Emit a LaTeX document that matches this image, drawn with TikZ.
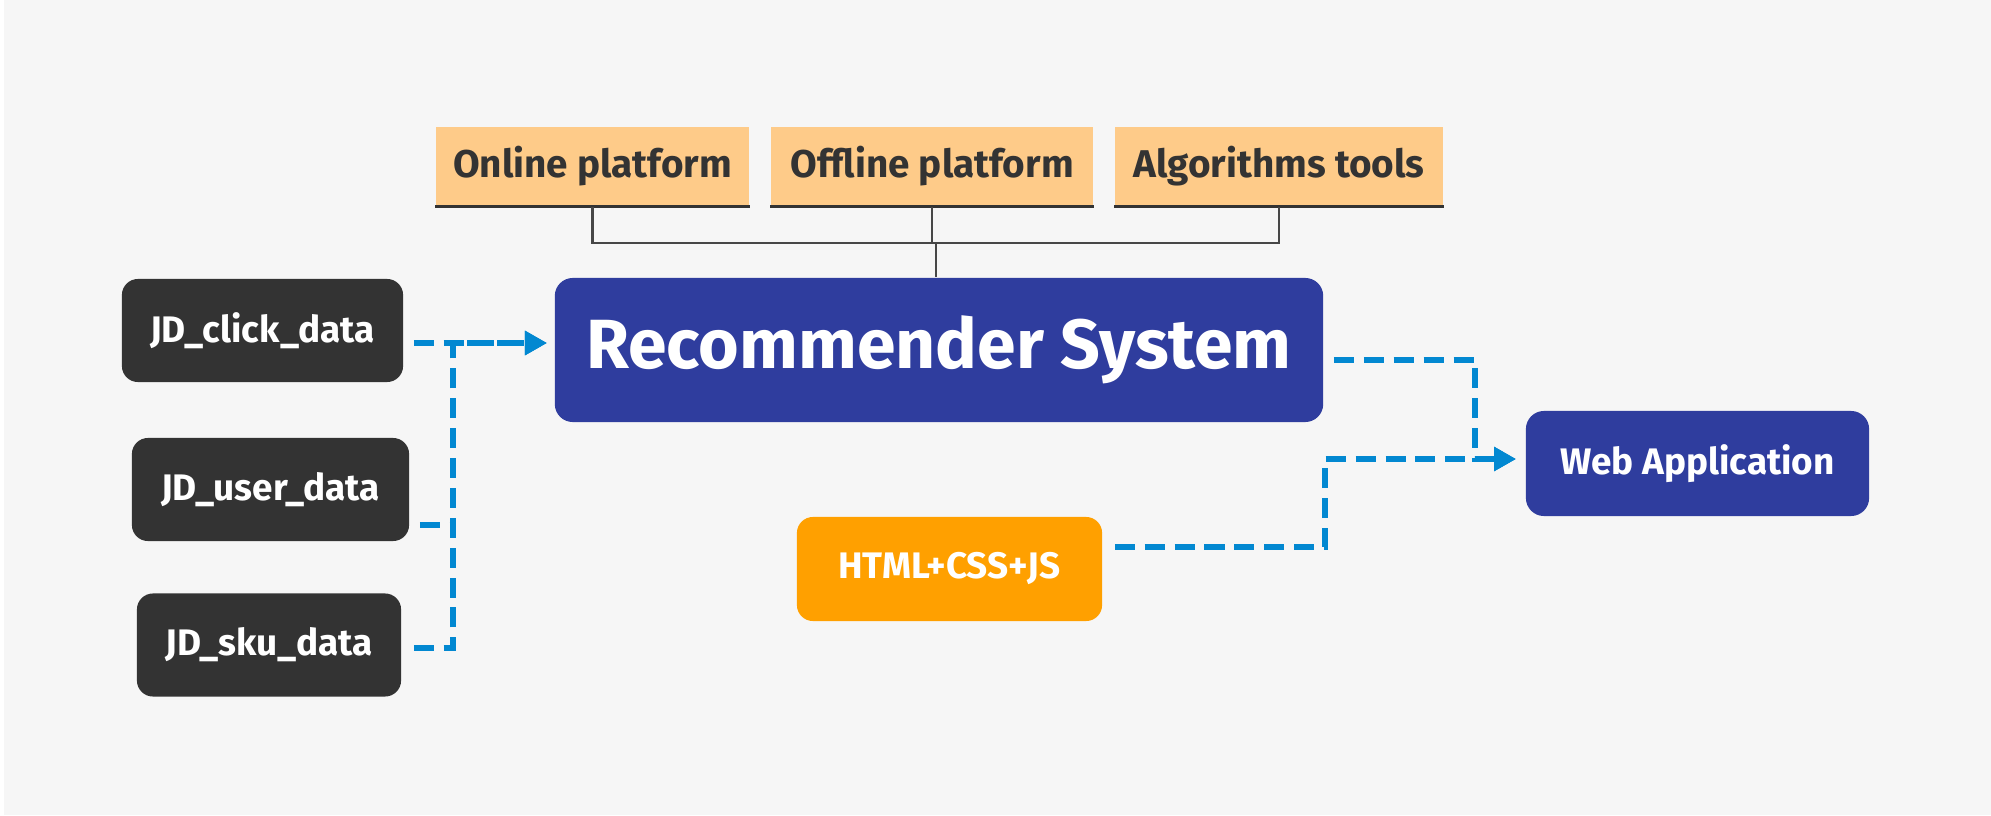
\documentclass[tikz,border=0pt]{standalone}
\usepackage{fontspec}
\setmainfont{Fira Sans}
\usetikzlibrary{arrows.meta}

\definecolor{bggray}{HTML}{F6F6F6}
\definecolor{darkbox}{HTML}{333333}
\definecolor{indigobox}{HTML}{2F3D9E}
\definecolor{peach}{HTML}{FECB89}
\definecolor{amber}{HTML}{FFA000}
\definecolor{flowblue}{HTML}{0288D1}

\tikzset{
  platform/.style={fill=peach, text=darkbox, font=\fontsize{11}{13}\selectfont\bfseries,
                   minimum height=0.79cm, inner sep=0pt},
  databox/.style={fill=darkbox, text=white, rounded corners=0.16cm,
                  font=\fontsize{10.5}{12}\selectfont\bfseries, minimum height=1.03cm, inner sep=0pt},
  sysbox/.style={fill=indigobox, text=white, rounded corners=0.18cm, inner sep=0pt},
  flow/.style={draw=flowblue, line width=1.7pt, dash pattern=on 5.7pt off 2.8pt,
               -{Triangle[length=0.22cm,width=0.23cm]}},
  flowline/.style={draw=flowblue, line width=1.7pt, dash pattern=on 5.7pt off 2.8pt},
  bracket/.style={draw=darkbox!90, line width=0.6pt}
}

\begin{document}
\begin{tikzpicture}[x=0.01cm, y=-0.01cm]
% background
\fill[white] (0,0) rectangle (1991,815);
\fill[bggray] (4,0) rectangle (1991,815);

% platforms on top
\node[platform, minimum width=3.13cm] (online) at (592.5,166.5) {Online platform};
\node[platform, minimum width=3.22cm] (offline) at (932,166.5) {Offline platform};
\node[platform, minimum width=3.28cm] (algo) at (1279,166.5) {Algorithms tools};
\foreach \p in {online,offline,algo}
{	\draw[darkbox, line width=0.9pt] (\p.south west) -- (\p.south east); %underline
}

% main system
\node[sysbox, minimum width=7.68cm, minimum height=1.44cm,
      font=\fontsize{19.8}{24}\selectfont\bfseries] (rs) at (939,350) {Recommender System};

% data sources
\node[databox, minimum width=2.81cm] (click) at (262.5,330.5) {JD\_click\_data};
\node[databox, minimum width=2.77cm] (user) at (270.5,489.5) {JD\_user\_data};
\node[databox, minimum width=2.64cm] (sku) at (269,645) {JD\_sku\_data};

% front end
\node[fill=amber, text=white, rounded corners=0.16cm, inner sep=0pt,
      minimum width=3.05cm, minimum height=1.04cm,
      font=\fontsize{10.5}{12}\selectfont\bfseries] (html) at (949.5,569) {HTML+CSS+JS};
\node[sysbox, minimum width=3.43cm, minimum height=1.05cm,
      font=\fontsize{10.5}{12}\selectfont\bfseries] (web) at (1697.5,463.5) {Web Application};

% bracket joining the platforms
\coordinate (join) at (936,243);
\draw[bracket] (online.south) |- (join) -| (algo.south);
\draw[bracket] (offline.south) -- (offline.south |- join);
\draw[bracket] (join) -- (join |- rs.north);

% data flows into the system
\coordinate (rsin) at (547,343);
\coordinate (bus) at (453,343);
\draw[flow] ([xshift=0.1cm]click.east |- rsin) -- (rsin);
\draw[flowline] ([xshift=0.1cm,yshift=-0.35cm]user.east) -- ++(34,0);
\draw[flow] ([xshift=0.12cm,yshift=-0.03cm]sku.east) -| (bus) -- (rsin);

% flows into the web application
\coordinate (webin) at (1516,459);
\draw[flow] ([xshift=0.1cm,yshift=-0.1cm]rs.east) -| (1475,459) -- (webin);
\draw[flow] ([xshift=0.12cm,yshift=0.22cm]html.east) -| (1325,459) -- (webin);
\end{tikzpicture}
\end{document}
